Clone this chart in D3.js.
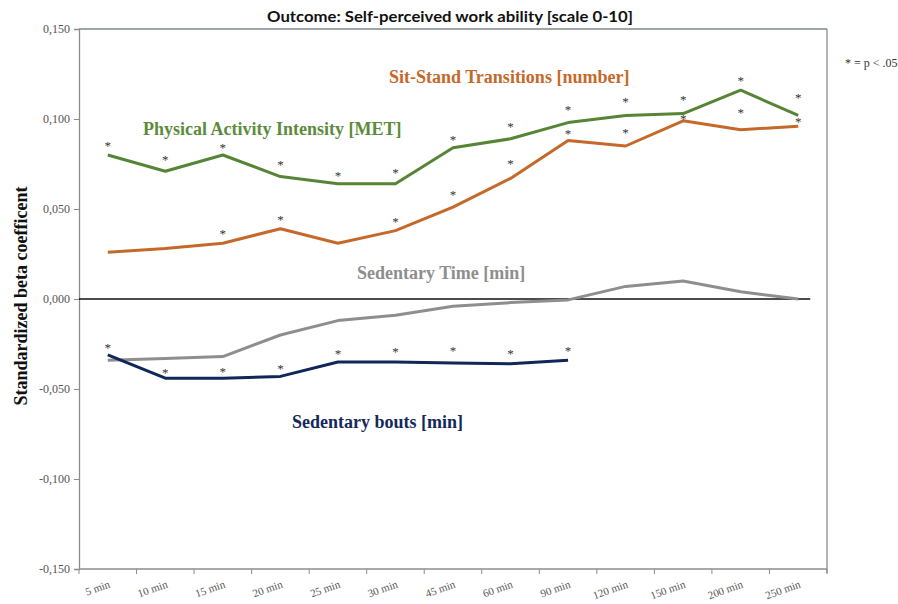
<!DOCTYPE html>
<html>
<head>
<meta charset="utf-8">
<script src="https://cdn.jsdelivr.net/npm/d3@7"></script>
<style>
  html, body { margin: 0; padding: 0; background: #fff; }
  svg { display: block; }
</style>
</head>
<body>
<svg id="chart" width="898" height="604"></svg>
<script>
// ---- Data ----
const categories = ["5 min","10 min","15 min","20 min","25 min","30 min","45 min","60 min","90 min","120 min","150 min","200 min","250 min"];
const yTicks = [-0.15, -0.1, -0.05, 0, 0.05, 0.1, 0.15];

const physicalActivity = [0.080, 0.071, 0.080, 0.068, 0.064, 0.064, 0.084, 0.089, 0.098, 0.102, 0.103, 0.116, 0.102];
const sitStand        = [0.026, 0.028, 0.031, 0.039, 0.031, 0.038, 0.051, 0.067, 0.088, 0.085, 0.099, 0.094, 0.096];
const sedentaryTime   = [-0.034, -0.033, -0.032, -0.020, -0.012, -0.009, -0.004, -0.002, -0.0005, 0.007, 0.010, 0.004, 0.000];
const sedentaryBouts  = [-0.031, -0.044, -0.044, -0.043, -0.035, -0.035, -0.0355, -0.036, -0.034, null, null, null, null];

// significance asterisk heights (value units), null = not significant
const paStars    = [0.0862, 0.0784, 0.0851, 0.0756, 0.0695, 0.0712, 0.0895, 0.0967, 0.1062, 0.1107, 0.1118, 0.1223, 0.1129];
const ssStars    = [null, null, 0.0369, 0.0447, null, 0.0439, 0.0586, 0.0758, 0.0925, 0.0930, 0.1008, 0.1045, 0.0994];
const boutsStars = [-0.0261, -0.0400, -0.0395, -0.0376, -0.0298, -0.0285, -0.0276, -0.0298, -0.0276, null, null, null, null];

// ---- Layout ----
const svg = d3.select("#chart");
const L = 79, R = 827, T = 29, B = 569;
const axisColor = "#8c8c8c";
const serifFont = "Liberation Serif";

const x = d3.scaleBand().domain(categories).range([L, R]);
const y = d3.scaleLinear().domain([-0.15, 0.15]).range([B, T]);
const cx = c => x(c) + x.bandwidth() / 2;

// Title
svg.append("text")
  .attr("x", 450).attr("y", 22)
  .attr("text-anchor", "middle")
  .attr("font-family", "Lato")
  .attr("font-weight", "bold").attr("font-size", 15.5)
  .attr("textLength", 366).attr("lengthAdjust", "spacingAndGlyphs")
  .attr("fill", "#111")
  .text("Outcome: Self-perceived work ability [scale 0-10]");

// Frame top/right
svg.append("line").attr("x1", L).attr("x2", R).attr("y1", T).attr("y2", T)
  .attr("stroke", "#7f878a").attr("stroke-width", 1.3);
svg.append("line").attr("x1", R).attr("x2", R).attr("y1", T).attr("y2", B + 4)
  .attr("stroke", axisColor).attr("stroke-width", 1.3);

// Y axis
const fmt = d => (d < 0 ? "-" : "") + Math.abs(d).toFixed(3).replace(".", ",");
const yAxis = svg.append("g")
  .attr("transform", `translate(${L},0)`)
  .call(d3.axisLeft(y).tickValues(yTicks).tickFormat(fmt).tickSize(5).tickPadding(4));
yAxis.attr("font-family", serifFont).attr("font-size", 12);
yAxis.select(".domain").attr("stroke", axisColor).attr("stroke-width", 1.3);
yAxis.selectAll(".tick line").attr("stroke", axisColor);
yAxis.selectAll(".tick text").attr("fill", "#555");

// X axis (ticks at category boundaries)
svg.append("line").attr("x1", L).attr("x2", R).attr("y1", B).attr("y2", B)
  .attr("stroke", axisColor).attr("stroke-width", 1.3);
const boundaries = categories.map(c => x(c)).concat([x.range()[1]]);
svg.selectAll(".xtick").data(boundaries).enter().append("line")
  .attr("class", "xtick")
  .attr("x1", d => d).attr("x2", d => d).attr("y1", B).attr("y2", B + 5)
  .attr("stroke", axisColor);
svg.selectAll(".xlab").data(categories).enter().append("text")
  .attr("class", "xlab")
  .attr("transform", d => `translate(${cx(d) + 3},${B + 18}) rotate(-20)`)
  .attr("text-anchor", "end")
  .attr("font-family", serifFont).attr("font-size", 11)
  .attr("fill", "#555")
  .text(d => d);

// Y title
svg.append("text")
  .attr("transform", `translate(27,296) rotate(-90)`)
  .attr("text-anchor", "middle")
  .attr("font-family", serifFont).attr("font-weight", "bold").attr("font-size", 18)
  .attr("fill", "#111")
  .text("Standardized beta coefficent");

// Zero line
svg.append("line").attr("x1", L).attr("x2", cx(categories[categories.length - 1]) + 12)
  .attr("y1", y(0)).attr("y2", y(0))
  .attr("stroke", "#111").attr("stroke-width", 1.4);

// Lines
const line = d3.line()
  .defined(d => d.v !== null)
  .x(d => cx(d.c)).y(d => y(d.v));
const series = [
  { vals: sedentaryTime, color: "#8e8e8e" },
  { vals: sitStand, color: "#c5692b" },
  { vals: physicalActivity, color: "#558535" },
  { vals: sedentaryBouts, color: "#10275a" }
];
series.forEach(s => {
  svg.append("path")
    .datum(categories.map((c, i) => ({ c, v: s.vals[i] })))
    .attr("d", line)
    .attr("fill", "none")
    .attr("stroke", s.color)
    .attr("stroke-width", 3)
    .attr("stroke-linejoin", "round");
});

// Asterisks
[paStars, ssStars, boutsStars].forEach(arr => {
  svg.selectAll(null)
    .data(categories.map((c, i) => ({ c, v: arr[i] })).filter(d => d.v !== null))
    .enter().append("text")
    .attr("x", d => cx(d.c)).attr("y", d => y(d.v))
    .attr("dy", "0.45em")
    .attr("text-anchor", "middle")
    .attr("font-family", serifFont).attr("font-size", 13)
    .attr("fill", "#333")
    .text("*");
});

// Series labels
const labels = [
  { t: "Sit-Stand Transitions [number]", x: 389, y: 83, c: "#c5692b" },
  { t: "Physical Activity Intensity [MET]", x: 143, y: 135, c: "#5b8c3c" },
  { t: "Sedentary Time [min]", x: 357, y: 279, c: "#8e8e8e" },
  { t: "Sedentary bouts [min]", x: 292, y: 428, c: "#13295c" }
];
svg.selectAll(".slab").data(labels).enter().append("text")
  .attr("class", "slab")
  .attr("x", d => d.x).attr("y", d => d.y)
  .attr("font-family", serifFont).attr("font-weight", "bold").attr("font-size", 18)
  .attr("fill", d => d.c)
  .text(d => d.t);

// Significance note
svg.append("text")
  .attr("x", 845).attr("y", 67)
  .attr("font-family", serifFont).attr("font-size", 12)
  .attr("fill", "#333")
  .text("* = p < .05");
</script>
</body>
</html>
